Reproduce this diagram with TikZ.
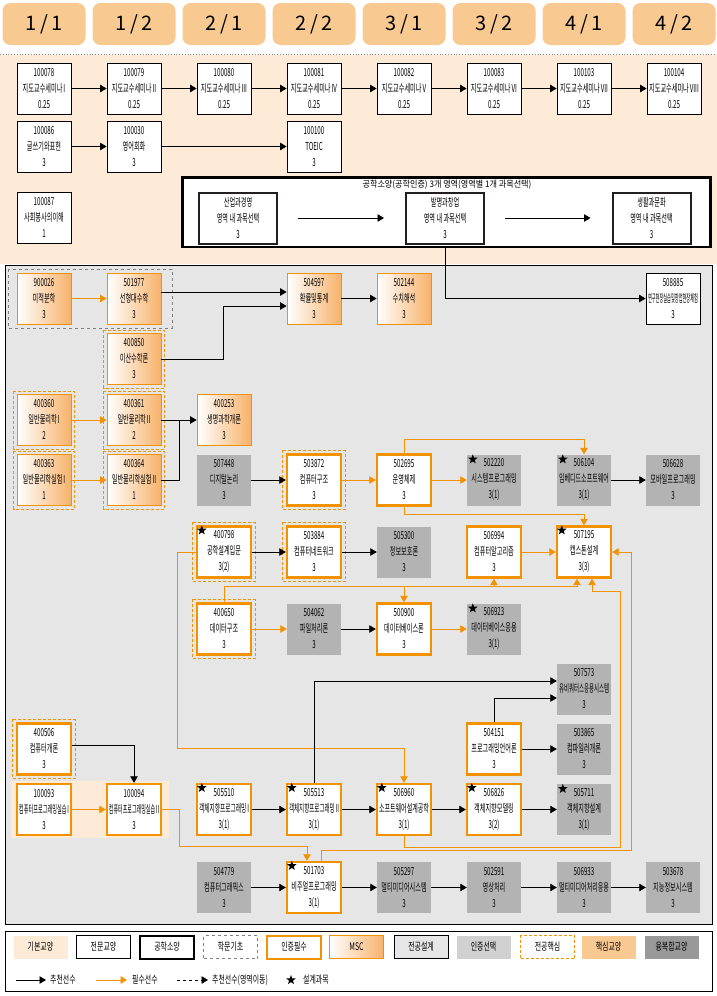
\documentclass[tikz,border=0pt]{standalone}
\usepackage{fontspec}
\setmainfont{Noto Sans CJK KR}
\usepackage{graphicx}
\usetikzlibrary{arrows.meta,calc,shapes.geometric}
\definecolor{ornge}{HTML}{F39200}
\definecolor{peachbg}{HTML}{FDEBD8}
\definecolor{hdrC}{HTML}{F9C992}
\definecolor{grayBG}{HTML}{E6E6E6}
\definecolor{crsgray}{HTML}{B3B3B3}
\definecolor{optgray}{HTML}{D1D1D1}
\definecolor{mixgray}{HTML}{999999}
\definecolor{ink}{HTML}{231F20}
\definecolor{mscL}{HTML}{FFFFFF}
\definecolor{mscR}{HTML}{F7B26A}

\newcommand\crsfont{\fontsize{11}{16}\selectfont}
\newcommand\lgfont{\fontsize{10.5}{11}\selectfont}
\newsavebox\ctbox
\newcommand\ctxt[1]{\sbox\ctbox{\scalebox{0.56}[1]{#1}}%
  \ifdim\wd\ctbox>50pt\resizebox{50pt}{\height}{\usebox\ctbox}\else\usebox\ctbox\fi}
\newcommand\crs[3]{\ctxt{#1}\\\ctxt{#2}\\\ctxt{#3}}
\newcommand\ltxt[1]{\scalebox{0.66}[1]{#1}}

\begin{document}
\begin{tikzpicture}[x=1pt,y=-1pt,
  crs/.style={minimum width=54pt,minimum height=51pt,inner sep=0pt,align=center,font=\crsfont},
  pro/.style={crs,draw,fill=white,line width=0.8pt},
  req/.style={crs,draw=ornge,fill=white,line width=2.4pt},
  msc/.style={crs,draw=ornge,line width=0.8pt,left color=mscL,right color=mscR},
  opt/.style={crs,fill=crsgray},
  eng/.style={crs,minimum width=78pt,draw=ink,fill=white,line width=2pt},
  hdr/.style={rounded corners=8pt,fill=hdrC,minimum width=83pt,minimum height=42pt,font=\fontsize{20}{20}\selectfont},
  rec/.style={line width=0.8pt,-{Triangle[length=6.5pt,width=7.5pt]}},
  must/.style={rec,ornge},
  link/.style={line width=0.8pt},
  core/.style={draw=ornge,line width=0.8pt,dash pattern=on 3pt off 2pt},
  dstar/.style={star,star points=5,star point ratio=2.4,fill=black,minimum size=10pt,inner sep=0pt},
  lg/.style={minimum width=54pt,minimum height=23pt,inner sep=0pt,font=\lgfont},
  lgtxt/.style={font=\lgfont,inner sep=0pt,anchor=west}]
  \useasboundingbox (0,0) rectangle (717,996);

  % semesters
  \foreach \a/\b [count=\i from 0] in {1/1,1/2,2/1,2/2,3/1,3/2,4/1,4/2}
    \node[hdr] (h\a\b) at ({44+90*\i},24) {\a\,/\,\b};
  \fill[peachbg] (0,55) rectangle (717,264);
  \draw[gray,dotted,line width=0.8pt] (0,54) -- (717,54);

  % general education
  \foreach \cd/\nm [count=\i from 0] in {100078/I,100079/II,100080/III,100081/IV,100082/V,100083/VI,100103/VII,100104/VIII}
    \node[pro] (t\cd) at ({44+90*\i},88.5) {\crs{\cd}{지도교수세미나\,\nm}{0.25}};
  \foreach \a/\b in {100078/100079,100079/100080,100080/100081,100081/100082,100082/100083,100083/100103,100103/100104}
    \draw[rec] (t\a) -- (t\b);
  \node[pro] (t100086) at (44,146.5) {\crs{100086}{글쓰기와표현}{3}};
  \node[pro] (t100030) at (134,146.5) {\crs{100030}{영어회화}{3}};
  \node[pro] (t100100) at (314,146.5) {\crs{100100}{TOEIC}{3}};
  \node[pro] (t100087) at (44,217.5) {\crs{100087}{사회봉사의이해}{1}};
  \draw[rec] (t100086) -- (t100030);
  \draw[rec] (t100030) -- (t100100);

  % engineering literacy
  \node[draw=black,line width=2.5pt,fill=white,minimum width=528pt,minimum height=69.5pt,inner sep=0pt] (engbox) at (446.5,212) {};
  \node[font=\fontsize{9}{9}\selectfont,inner sep=0pt] (engttl) at (447,185) {\scalebox{0.9}[1]{공학소양(공학인증) 3개 영역(영역별 1개 과목선택)}};
  \node[eng] (ind) at (238,218) {\crs{산업과경영}{영역 내 과목선택}{3}};
  \node[eng] (inv) at (445,218) {\crs{발명과창업}{영역 내 과목선택}{3}};
  \node[eng] (life) at (651.5,218) {\crs{생활과문화}{영역 내 과목선택}{3}};
  \draw[rec,shorten <=20pt,shorten >=21pt] (ind) -- (inv);
  \draw[rec,shorten <=20pt,shorten >=21pt] (inv) -- (life);

  % major area
  \draw[fill=grayBG,line width=0.8pt] (5,265) rectangle (712,924);
  \draw[gray,dashed,line width=0.8pt] (8,269) rectangle (172,328);
  \fill[peachbg] (11,781) rectangle (169,838);

  \node[msc] (c900026) at (44,298.5) {\crs{900026}{미적분학}{3}};
  \node[msc] (c501977) at (134,298.5) {\crs{501977}{선형대수학}{3}};
  \node[msc] (c504597) at (314,298.5) {\crs{504597}{확률및통계}{3}};
  \node[msc] (c502144) at (404,298.5) {\crs{502144}{수치해석}{3}};
  \node[pro] (c508885) at (673,298.5) {\crs{508885}{연구현장실습및창업현장체험}{3}};
  \node[msc] (c400850) at (134,359) {\crs{400850}{이산수학론}{3}};
  \node[msc] (c400360) at (44,420) {\crs{400360}{일반물리학\,I}{2}};
  \node[msc] (c400361) at (134,420) {\crs{400361}{일반물리학\,II}{2}};
  \node[msc] (c400253) at (224,420) {\crs{400253}{생명과학개론}{3}};
  \node[msc] (c400363) at (44,480) {\crs{400363}{일반물리학실험\,I}{1}};
  \node[msc] (c400364) at (134,480) {\crs{400364}{일반물리학실험\,II}{1}};
  \node[opt] (c507448) at (224,480) {\crs{507448}{디지털논리}{3}};
  \node[req] (c503872) at (314,480) {\crs{503872}{컴퓨터구조}{3}};
  \node[req] (c502695) at (404,480) {\crs{502695}{운영체제}{3}};
  \node[opt] (c502220) at (494,480) {\crs{502220}{시스템프로그래밍}{3(1)}};
  \node[opt] (c506104) at (584,480) {\crs{506104}{임베디드소프트웨어}{3(1)}};
  \node[opt] (c506628) at (673,480) {\crs{506628}{모바일프로그래밍}{3}};
  \node[req] (c400798) at (224,552) {\crs{400798}{공학설계입문}{3(2)}};
  \node[req] (c503884) at (314,552) {\crs{503884}{컴퓨터네트워크}{3}};
  \node[opt] (c505300) at (404,552) {\crs{505300}{정보보호론}{3}};
  \node[req] (c506994) at (494,552) {\crs{506994}{컴퓨터알고리즘}{3}};
  \node[req] (c507195) at (584,552) {\crs{507195}{캡스톤설계}{3(3)}};
  \node[req] (c400650) at (224,629) {\crs{400650}{데이터구조}{3}};
  \node[opt] (c504062) at (314,629) {\crs{504062}{파일처리론}{3}};
  \node[req] (c500900) at (404,629) {\crs{500900}{데이터베이스론}{3}};
  \node[opt] (c506923) at (494,629) {\crs{506923}{데이터베이스응용}{3(1)}};
  \node[opt] (c507573) at (584,689) {\crs{507573}{유비쿼터스응용시스템}{3}};
  \node[req] (c400506) at (44,749) {\crs{400506}{컴퓨터개론}{3}};
  \node[req] (c504151) at (494,749) {\crs{504151}{프로그래밍언어론}{3}};
  \node[opt] (c503865) at (584,749) {\crs{503865}{컴파일러개론}{3}};
  \node[req] (c100093) at (44,809.5) {\crs{100093}{컴퓨터프로그래밍실습\,I}{3}};
  \node[req] (c100094) at (134,809.5) {\crs{100094}{컴퓨터프로그래밍실습\,II}{3}};
  \node[req] (c505510) at (224,809.5) {\crs{505510}{객체지향프로그래밍\,I}{3(1)}};
  \node[req] (c505513) at (314,809.5) {\crs{505513}{객체지향프로그래밍\,II}{3(1)}};
  \node[req] (c506960) at (404,809.5) {\crs{506960}{소프트웨어설계공학}{3(1)}};
  \node[req] (c506826) at (494,809.5) {\crs{506826}{객체지향모델링}{3(2)}};
  \node[opt] (c505711) at (584,809.5) {\crs{505711}{객체지향설계}{3(1)}};
  \node[opt] (c504779) at (224,887.5) {\crs{504779}{컴퓨터그래픽스}{3}};
  \node[req] (c501703) at (314,887.5) {\crs{501703}{비주얼프로그래밍}{3(1)}};
  \node[opt] (c505297) at (404,887.5) {\crs{505297}{멀티미디어시스템}{3}};
  \node[opt] (c502591) at (494,887.5) {\crs{502591}{영상처리}{3}};
  \node[opt] (c506933) at (584,887.5) {\crs{506933}{멀티미디어처리응용}{3}};
  \node[opt] (c503678) at (673,887.5) {\crs{503678}{지능정보시스템}{3}};

  % core courses and design courses
  \foreach \n in {400850,400360,400361,400363,400364,503872,400798,503884,400650,400506}
    \draw[core] ([shift={(-3pt,3pt)}]c\n.north west) rectangle ([shift={(3pt,-3pt)}]c\n.south east);
  \foreach \n in {502220,506104,400798,507195,506923,505510,505513,506960,506826,505711,501703}
    \node[dstar] (s\n) at ([shift={(6pt,-5pt)}]c\n.north west) {};

  % prerequisites
  \draw[rec] (engbox.south -| inv) |- (c508885);
  \draw[must] (c900026) -- (c501977);
  \draw[rec] ([yshift=6.5pt]c501977.east) -- ([yshift=6.5pt]c504597.west);
  \draw[rec] (c400850.east) -- ++(62,0) |- ([yshift=-7.5pt]c504597.west);
  \draw[rec] (c504597) -- (c502144);
  \draw[must] (c400360) -- (c400361);
  \draw[must] (c400363) -- (c400364);
  \draw[rec] (c400361) -- (c400253);
  \draw[link] (c400364.east) -| ($(c400361.east)!.5!(c400253.west)$);
  \draw[rec] (c507448) -- (c503872);
  \draw[must] (c503872) -- (c502695);
  \draw[must] (c502695) -- (c502220);
  \draw[rec] (c506104) -- (c506628);
  \draw[must] (c502695.north) -- ++(0,-14) -| (c506104.north);
  \draw[must] (c502695.south) -- ++(0,8) -| (c507195.north);
  \draw[rec] (c400798) -- (c503884);
  \draw[rec] (c503884) -- (c505300);
  \draw[must] (c506994) -- (c507195);
  \draw[must] (c400650.north) -- ++(0,-16) coordinate (dsbus) -| ([xshift=-7pt]c507195.south);
  \draw[must] (dsbus -| c506994) -- (c506994.south);
  \draw[must] (dsbus -| c500900) -- (c500900.north);
  \draw[must] (c506960.south) -- ++(0,11) -| ++(216,-256) -| ([xshift=8pt]c507195.south);
  \draw[must] ([xshift=7pt]c501703.north) -- ++(0,-10) -| ($(c507195.east)+(19,0)$) -- (c507195.east);
  \draw[must] (c400798.west) -- ++(-18,0) |- ($(c506960.north)+(0,-34)$) -- (c506960.north);
  \draw[must] (c400650) -- (c504062);
  \draw[rec] (c504062) -- (c500900);
  \draw[must] (c500900) -- (c506923);
  \draw[rec] (c505513.north) |- ([yshift=8pt]c507573.west);
  \draw[rec] (c504151.north) |- ([yshift=-9pt]c507573.west);
  \draw[rec] (c504151) -- (c503865);
  \draw[rec] ([yshift=4pt]c400506.east) -| (c100094.north);
  \draw[must] (c100093) -- (c100094);
  \draw[must] (c100094.east) -- ++(17,0) |- ($([xshift=-7pt]c501703.north)+(0,-14)$) -- ([xshift=-7pt]c501703.north);
  \foreach \a/\b in {505510/505513,505513/506960,506960/506826,506826/505711,504779/501703,501703/505297,505297/502591,502591/506933,506933/503678}
    \draw[rec] (c\a) -- (c\b);

  % legend
  \draw[line width=0.8pt,fill=white] (5,931) rectangle (712,991);
  \node[lg,fill=peachbg] (lg1) at (40.5,947) {\ltxt{기본교양}};
  \node[lg,draw,line width=0.8pt] (lg2) at (103.5,947) {\ltxt{전문교양}};
  \node[lg,draw,line width=2pt] (lg3) at (167,947) {\ltxt{공학소양}};
  \node[lg,draw=gray,dashed,line width=0.8pt] (lg4) at (230.5,947) {\ltxt{학문기초}};
  \node[lg,draw=ornge,line width=2pt] (lg5) at (294,947) {\ltxt{인증필수}};
  \node[lg,draw=ornge,line width=0.8pt,left color=mscL,right color=mscR] (lg6) at (356.5,947) {\ltxt{MSC}};
  \node[lg,draw,fill=grayBG,line width=0.8pt] (lg7) at (421,947) {\ltxt{전공설계}};
  \node[lg,fill=optgray] (lg8) at (483.5,947) {\ltxt{인증선택}};
  \node[lg,core] (lg9) at (547.5,947) {\ltxt{전공핵심}};
  \node[lg,fill=hdrC] (lg10) at (608.5,947) {\ltxt{핵심교양}};
  \node[lg,fill=mixgray] (lg11) at (671.5,947) {\ltxt{융복합교양}};
  \coordinate (lrA) at (16,980);  \coordinate (lrB) at (46,980);
  \coordinate (lmA) at (96,980);  \coordinate (lmB) at (127,980);
  \coordinate (ldA) at (177,980); \coordinate (ldB) at (208,980);
  \draw[rec] (lrA) -- (lrB);
  \draw[must] (lmA) -- (lmB);
  \draw[rec,dashed] (ldA) -- (ldB);
  \node[lgtxt] (lrT) at (50,980) {\ltxt{추천선수}};
  \node[lgtxt] (lmT) at (132,980) {\ltxt{필수선수}};
  \node[lgtxt] (ldT) at (212,980) {\ltxt{추천선수(영역이동)}};
  \node[dstar] (lsS) at (291,980) {};
  \node[lgtxt] (lsT) at (303,980) {\ltxt{설계과목}};
\end{tikzpicture}
\end{document}
